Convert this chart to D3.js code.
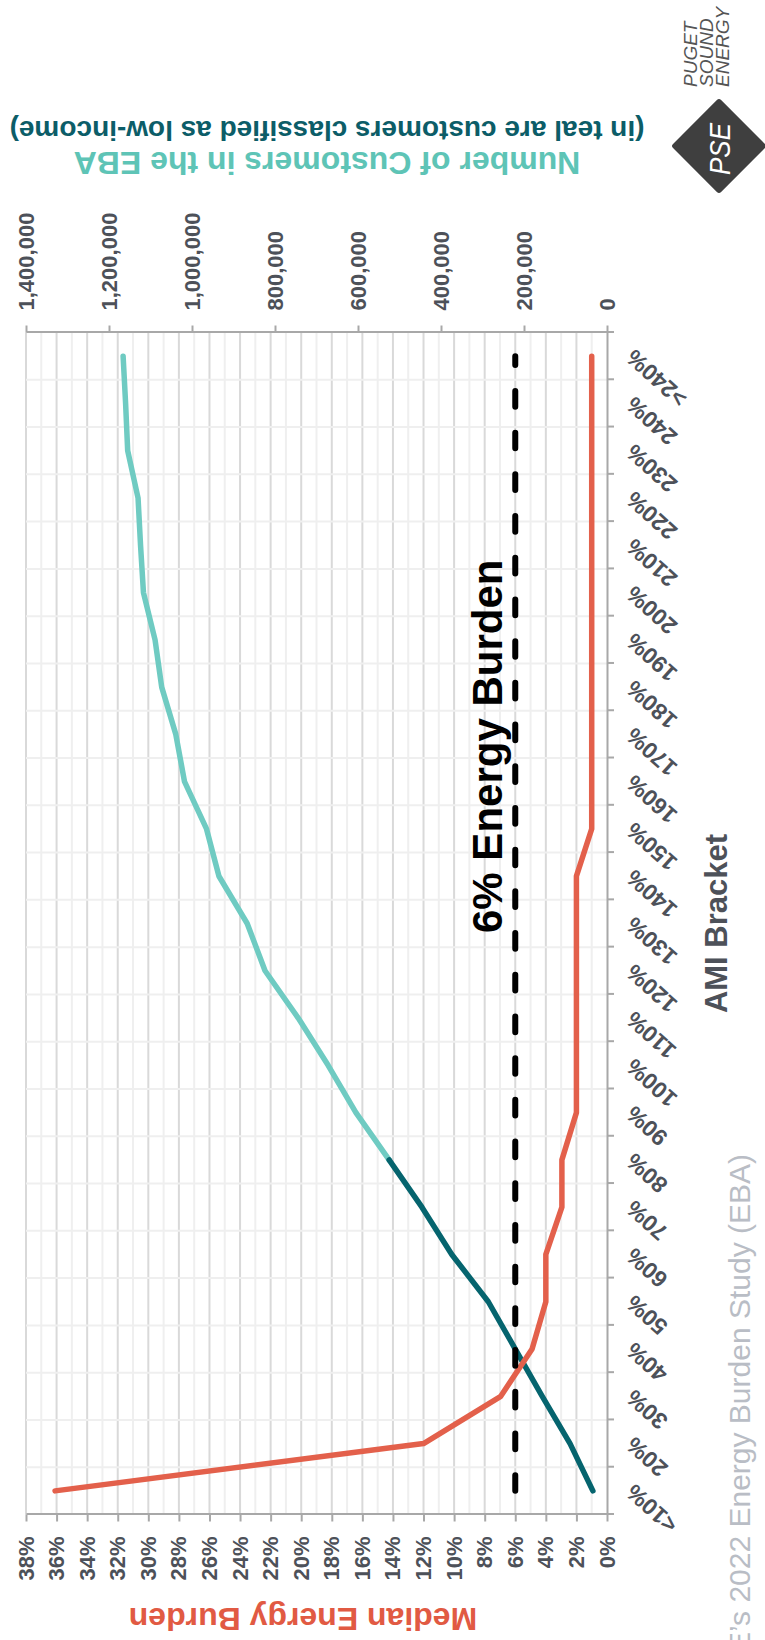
<!DOCTYPE html>
<html>
<head>
<meta charset="utf-8">
<script src="https://cdn.jsdelivr.net/npm/d3@7"></script>
<style>
  html, body { margin: 0; padding: 0; background: #ffffff; }
  svg { display: block; font-family: "Liberation Sans", Arial, sans-serif; }
</style>
</head>
<body>
<svg id="chart" width="765" height="1640"></svg>
<script>
// AMI brackets (area median income)
const amiBrackets = ["<10%", "20%", "30%", "40%", "50%", "60%", "70%", "80%", "90%", "100%",
  "110%", "120%", "130%", "140%", "150%", "160%", "170%", "180%", "190%", "200%",
  "210%", "220%", "230%", "240%", ">240%"];

// Median energy burden per bracket, in percent
const medianBurden = [36.1, 12.0, 6.95, 4.9, 4.0, 4.0, 2.95, 2.95, 2.0, 2.0,
  2.0, 2.0, 2.0, 2.0, 1.0, 1.0, 1.0, 1.0, 1.0, 1.0,
  1.0, 1.0, 1.0, 1.0, 1.0];

// Cumulative number of customers in the EBA per bracket
const customers = [34000, 89000, 156000, 221000, 286000, 374000, 446000, 525000, 605000, 672000,
  744000, 824000, 867000, 935000, 965000, 1018000, 1039000, 1073000, 1089000, 1117000,
  1124000, 1130000, 1155000, 1160000, 1166000];

// Last bracket classified as low-income
const lowIncomeLast = "80%";

// Energy burden threshold, percent
const burdenThreshold = 6;

const burdenTicks = d3.range(0, 39, 2);
const customerTicks = d3.range(0, 1400001, 200000);

// ---- layout (landscape chart, turned a quarter to fit the page) ----
const W = 1640;
const pLeft = 125.5, pRight = 1307.5, pTop = 26, pBottom = 607;

const font = '"Liberation Sans", Arial, sans-serif';
const tickColor = "#4d5159";
const axisColor = "#a8a8a8";
const red = "#e3604b";
const tealLight = "#6fcbc2";
const tealDark = "#05646e";

const svg = d3.select("#chart");
svg.append("rect").attr("width", 765).attr("height", 1640).attr("fill", "#fff");

const g = svg.append("g").attr("transform", `translate(0,${W}) rotate(-90)`);

const x = d3.scaleBand().domain(amiBrackets).range([pLeft, pRight]).padding(0);
const bw = x.bandwidth();
const cx = d => x(d) + bw / 2;
const yBurden = d3.scaleLinear().domain([0, 38]).range([pBottom, pTop]);
const yCust = d3.scaleLinear().domain([0, 1400000]).range([pBottom, pTop]);
const xEdge = d3.scaleLinear().domain([0, amiBrackets.length]).range([pLeft, pRight]);

// ---- grid ----
const grid = g.append("g");
grid.selectAll("line.h").data(d3.range(1, 39)).join("line")
  .attr("x1", pLeft).attr("x2", pRight)
  .attr("y1", d => yBurden(d)).attr("y2", d => yBurden(d))
  .attr("stroke", d => d % 2 === 0 ? "#d9d9d9" : "#efefef")
  .attr("stroke-width", 2);
grid.selectAll("line.v").data(d3.range(1, amiBrackets.length)).join("line")
  .attr("x1", d => xEdge(d)).attr("x2", d => xEdge(d))
  .attr("y1", pTop).attr("y2", pBottom)
  .attr("stroke", "#efefef").attr("stroke-width", 2);

// ---- axes ----
function styleAxis(sel, size) {
  sel.selectAll("path.domain").attr("stroke", axisColor).attr("stroke-width", 2);
  sel.selectAll(".tick line").attr("stroke", axisColor).attr("stroke-width", 2);
  sel.selectAll(".tick text").attr("fill", tickColor)
    .style("font-family", font).style("font-size", size + "px").style("font-weight", "bold");
}

const axL = g.append("g").attr("transform", `translate(${pLeft},0)`)
  .call(d3.axisLeft(yBurden).tickValues(burdenTicks).tickSize(7).tickSizeOuter(0)
    .tickPadding(15).tickFormat(d => d + "%"));
styleAxis(axL, 22);

const axR = g.append("g").attr("transform", `translate(${pRight},0)`)
  .call(d3.axisRight(yCust).tickValues(customerTicks).tickSize(7).tickSizeOuter(0)
    .tickPadding(15).tickFormat(d3.format(",")));
styleAxis(axR, 22);

const axB = g.append("g").attr("transform", `translate(0,${pBottom})`)
  .call(d3.axisBottom(xEdge).tickValues(d3.range(0, amiBrackets.length + 1))
    .tickSize(7).tickSizeOuter(0).tickFormat(""));
styleAxis(axB, 20);

// bracket labels, slanted
g.append("g").selectAll("text").data(amiBrackets).join("text")
  .attr("transform", d => `translate(${cx(d) + 8},${pBottom + 28}) rotate(-48)`)
  .attr("text-anchor", "end")
  .attr("fill", tickColor)
  .style("font-family", font).style("font-size", "23px").style("font-weight", "bold")
  .text(d => d);

// ---- series ----
const lowIdx = amiBrackets.indexOf(lowIncomeLast);
const custPts = amiBrackets.map((d, i) => [cx(d), yCust(customers[i])]);
const burdenPts = amiBrackets.map((d, i) => [cx(d), yBurden(medianBurden[i])]);
const line = d3.line();

g.append("path").attr("d", line(custPts.slice(lowIdx)))
  .attr("fill", "none").attr("stroke", tealLight).attr("stroke-width", 5.5)
  .attr("stroke-linejoin", "round").attr("stroke-linecap", "round");
g.append("path").attr("d", line(custPts.slice(0, lowIdx + 1)))
  .attr("fill", "none").attr("stroke", tealDark).attr("stroke-width", 5.5)
  .attr("stroke-linejoin", "round").attr("stroke-linecap", "round");

g.append("path").attr("d", line(burdenPts))
  .attr("fill", "none").attr("stroke", red).attr("stroke-width", 5.5)
  .attr("stroke-linejoin", "round").attr("stroke-linecap", "round");

// threshold
const first = amiBrackets[0], last = amiBrackets[amiBrackets.length - 1];
g.append("line")
  .attr("x1", cx(first)).attr("x2", cx(last))
  .attr("y1", yBurden(burdenThreshold)).attr("y2", yBurden(burdenThreshold))
  .attr("stroke", "#000").attr("stroke-width", 6)
  .attr("stroke-dasharray", "15.7,26").attr("stroke-linecap", "round");

g.append("text")
  .attr("x", 707).attr("y", 502)
  .attr("fill", "#000")
  .style("font-family", font).style("font-size", "42px").style("font-weight", "bold")
  .text(burdenThreshold + "% Energy Burden");

// ---- titles ----
g.append("text")
  .attr("x", (pLeft + pRight) / 2).attr("y", 727)
  .attr("text-anchor", "middle").attr("fill", tickColor)
  .style("font-family", font).style("font-size", "31px").style("font-weight", "bold")
  .text("AMI Bracket");

g.append("text")
  .attr("transform", "translate(32,303) rotate(-90)")
  .attr("text-anchor", "middle").attr("fill", "#e15a43")
  .style("font-family", font).style("font-size", "32px").style("font-weight", "bold")
  .text("Median Energy Burden");

g.append("text")
  .attr("transform", "translate(1488,327) rotate(-90)")
  .attr("text-anchor", "middle").attr("fill", "#5ec4b6")
  .style("font-family", font).style("font-size", "32px").style("font-weight", "bold")
  .text("Number of Customers in the EBA");

g.append("text")
  .attr("transform", "translate(1519,327) rotate(-90)")
  .attr("text-anchor", "middle").attr("fill", "#0c5d68")
  .style("font-family", font).style("font-size", "28px").style("font-weight", "bold")
  .text("(in teal are customers classified as low-income)");

// source
g.append("text")
  .attr("x", 486).attr("y", 750)
  .attr("text-anchor", "end").attr("fill", "#b9bdc5")
  .style("font-family", font).style("font-size", "30px")
  .text("PSE\u2019s 2022 Energy Burden Study (EBA)");

// ---- logo ----
const logo = g.append("g").attr("transform", "translate(1494,719)");
logo.append("rect")
  .attr("x", -34).attr("y", -34).attr("width", 68).attr("height", 68)
  .attr("rx", 3).attr("transform", "rotate(45)")
  .attr("fill", "#3f3f3f");
logo.append("text")
  .attr("x", -3).attr("y", 11)
  .attr("text-anchor", "middle").attr("fill", "#fff")
  .style("font-family", font).style("font-size", "30px").style("font-style", "italic")
  .attr("textLength", 52).attr("lengthAdjust", "spacingAndGlyphs")
  .text("PSE");

g.append("g").selectAll("text").data(["PUGET", "SOUND", "ENERGY"]).join("text")
  .attr("x", 1553).attr("y", (d, i) => 697 + i * 16)
  .attr("fill", "#555")
  .style("font-family", font).style("font-size", "19px").style("font-style", "italic")
  .text(d => d);
</script>
</body>
</html>
